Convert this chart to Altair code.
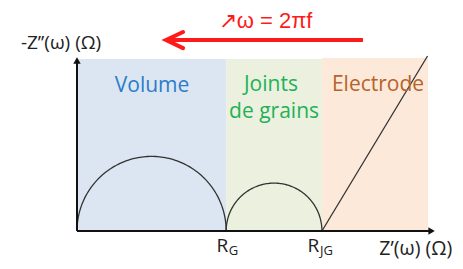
import altair as alt
import pandas as pd
import numpy as np

FONT = "Open Sans"

# Axis extents (arbitrary Ω units)
X_MAX = 2.4
Y_MAX = 1.2
R_G = 1.0
R_JG = 1.642

# Background regions
region_name = ["Volume", "Joints de grains", "Electrode"]
region_x0 = [0.0, 1.0, 1.642]
region_x1 = [1.0, 1.642, 2.353]
region_top = [1.153, 1.153, 1.16]
region_fill = ["#dce6f2", "#ebf1de", "#fde9d9"]

# Region labels
label_text = ["Volume", "Joints", "de grains", "Electrode"]
label_x = [0.503, 1.300, 1.321, 2.018]
label_y = [0.932, 0.939, 0.757, 0.939]
label_color = ["#2a7cc9", "#22b158", "#22b158", "#b5632b"]

# Electrode (Warburg) straight line
warb_x = [1.642, 2.35]
warb_y = [0.0, 1.173]

# Semicircles: centre, radius
arc_centre = [R_G / 2, (R_G + R_JG) / 2]
arc_radius = [R_G / 2, (R_JG - R_G) / 2]

rows = []
for k, (c, r) in enumerate(zip(arc_centre, arc_radius)):
    for i, t in enumerate(np.linspace(np.pi, 0, 121)):
        rows.append({"arc": k, "i": i, "x": c + r * np.cos(t), "y": r * np.sin(t)})
arcs = pd.DataFrame(rows)

xs = alt.Scale(domain=[0, X_MAX], nice=False, zero=False)
ys = alt.Scale(domain=[0, Y_MAX], nice=False, zero=False)

def X(f="x"):
    return alt.X(f"{f}:Q", scale=xs, axis=None)

def Y(f="y"):
    return alt.Y(f"{f}:Q", scale=ys, axis=None)

bg = alt.Chart(pd.DataFrame({"name": region_name, "x0": region_x0, "x1": region_x1,
                             "top": region_top, "fill": region_fill, "b": [0, 0, 0]})).mark_rect().encode(
    x=X("x0"), x2="x1", y=Y("b"), y2="top",
    color=alt.Color("fill:N", scale=None))

labels = alt.Chart(pd.DataFrame({"t": label_text, "x": label_x, "y": label_y, "c": label_color})).mark_text(
    font=FONT, fontSize=21, align="center", baseline="alphabetic").encode(
    x=X(), y=Y(), text="t:N", color=alt.Color("c:N", scale=None))

arc_layer = alt.Chart(arcs).mark_line(color="#333333", strokeWidth=1.3).encode(
    x=X(), y=Y(), detail="arc:N", order="i:Q")

warb = alt.Chart(pd.DataFrame({"x": warb_x, "y": warb_y})).mark_line(color="#333333", strokeWidth=1.3).encode(
    x=X(), y=Y())

# Axes drawn as arrows
xaxis = alt.Chart(pd.DataFrame({"x": [0.0], "x2": [2.37], "y": [0.0]})).mark_rule(
    color="#111111", strokeWidth=2).encode(x=X(), x2="x2", y=Y())
yaxis = alt.Chart(pd.DataFrame({"x": [0.0], "y": [0.0], "y2": [1.14]})).mark_rule(
    color="#111111", strokeWidth=2).encode(x=X(), y=Y(), y2="y2")
xhead = alt.Chart(pd.DataFrame({"x": [2.377], "y": [0.0]})).mark_point(
    shape="triangle-right", filled=True, size=55, color="#111111", opacity=1).encode(x=X(), y=Y())
yhead = alt.Chart(pd.DataFrame({"x": [0.0], "y": [1.143]})).mark_point(
    shape="triangle-up", filled=True, size=55, color="#111111", opacity=1).encode(x=X(), y=Y())

# Axis titles and tick labels
ax_text = ["-Z’’(ω) (Ω)", "R", "R"]
ax_x = [-0.107, 0.975, 1.585]
ax_y = [1.222, -0.141, -0.141]
ax_layer = alt.Chart(pd.DataFrame({"t": ax_text, "x": ax_x, "y": ax_y})).mark_text(
    font=FONT, fontSize=19, align="center", baseline="alphabetic", color="#222222").encode(
    x=X(), y=Y(), text="t:N")

xt_text = ["Z’(ω) (Ω)"]
xt_x = [2.271]
xt_y = [-0.160]
xt_layer = alt.Chart(pd.DataFrame({"t": xt_text, "x": xt_x, "y": xt_y})).mark_text(
    font=FONT, fontSize=19.5, align="center", baseline="alphabetic", color="#222222").encode(
    x=X(), y=Y(), text="t:N")

sub_text = ["G", "JG"]
sub_x = [1.049, 1.673]
sub_y = [-0.161, -0.161]
sub_layer = alt.Chart(pd.DataFrame({"t": sub_text, "x": sub_x, "y": sub_y})).mark_text(
    font=FONT, fontSize=13, align="center", baseline="alphabetic", color="#222222").encode(
    x=X(), y=Y(), text="t:N")

# Frequency arrow
freq_text = ["↗ω = 2πf"]
freq_x = [1.264]
freq_y = [1.361]
freq = alt.Chart(pd.DataFrame({"t": freq_text, "x": freq_x, "y": freq_y})).mark_text(
    font="Liberation Sans", fontSize=22, align="center", baseline="alphabetic", color="#ff1a1a").encode(
    x=X(), y=Y(), text="t:N")
arrow_shaft = alt.Chart(pd.DataFrame({"x": [0.61], "x2": [1.917], "y": [1.280]})).mark_rule(
    color="#ff1a1a", strokeWidth=4).encode(x=X(), x2="x2", y=Y())
head_x = [0.711, 0.597, 0.711]
head_y = [1.334, 1.280, 1.226]
arrow_head = alt.Chart(pd.DataFrame({"x": head_x, "y": head_y, "i": [0, 1, 2]})).mark_line(
    color="#ff1a1a", strokeWidth=4, strokeJoin="miter", strokeCap="round").encode(
    x=X(), y=Y(), order="i:Q")

chart = alt.layer(bg, arc_layer, warb, xaxis, yaxis, xhead, yhead, labels, ax_layer, xt_layer,
                  sub_layer, freq, arrow_shaft, arrow_head).properties(
    width=358, height=179,
    autosize=alt.AutoSizeParams(type="none"),
    padding={"left": 69, "top": 44, "right": 20, "bottom": 30},
    background="white",
).configure_view(stroke=None)

chart.save("out.html", embed_options={"renderer": "svg", "actions": False})
